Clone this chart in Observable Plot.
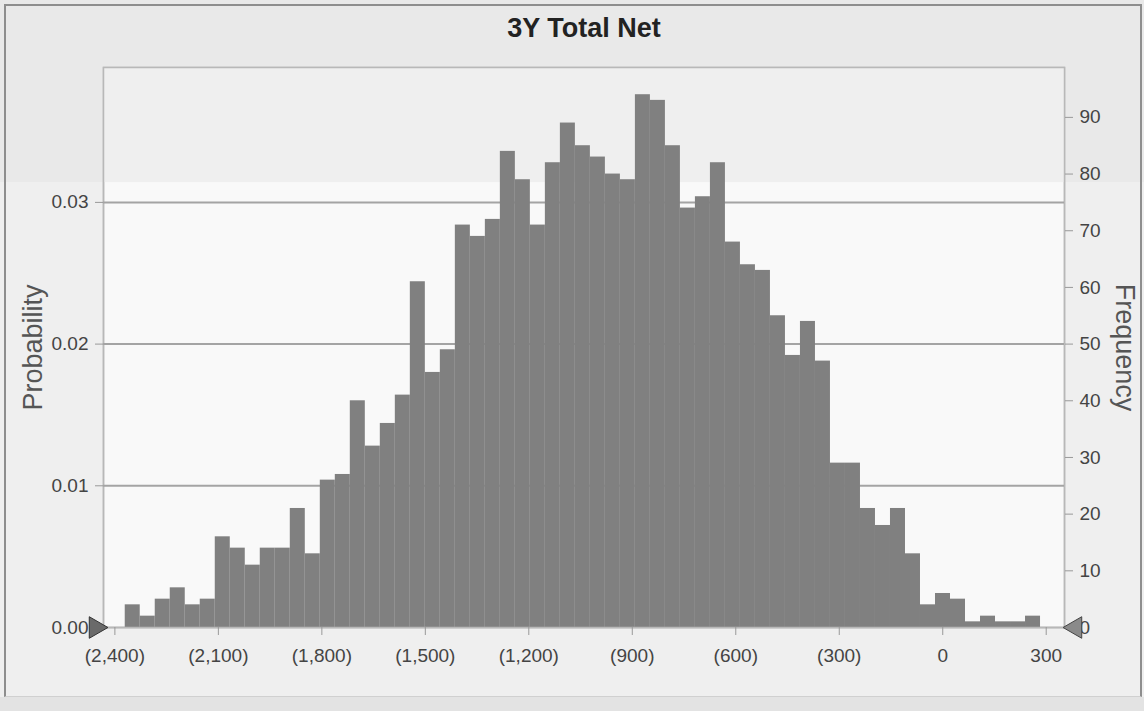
<!DOCTYPE html>
<html>
<head>
<meta charset="utf-8">
<script src="https://cdn.jsdelivr.net/npm/d3@7"></script>
<script src="https://cdn.jsdelivr.net/npm/@observablehq/plot@0.6"></script>
<style>
  html, body { margin: 0; padding: 0; background: #f3f3f3; }
  #chart {
    position: relative; width: 1144px; height: 711px; overflow: hidden;
    background: linear-gradient(#e9e9e9 0px, #e9e9e9 182px, #efefef 182px, #efefef 697px, #e3e3e3 697px);
  }
  #chart svg { position: absolute; left: 0; top: 0; }
  #border {
    position: absolute; left: 4px; top: 4px; width: 1134px; height: 690px;
    border: 2px solid #8e8e8e; border-bottom: 1px solid #d0d0d0; pointer-events: none;
  }
</style>
</head>
<body>
<div id="chart"><div id="border"></div></div>
<script>
// ---- data ----
const title = "3Y Total Net";
const leftLabel = "Probability";
const rightLabel = "Frequency";
const counts = [4, 2, 5, 7, 4, 5, 16, 14, 11, 14,
                14, 21, 13, 26, 27, 40, 32, 36, 41, 61,
                45, 49, 71, 69, 72, 84, 79, 71, 82, 89,
                85, 83, 80, 79, 94, 93, 85, 74, 76, 82,
                68, 64, 63, 55, 48, 54, 47, 29, 29, 21,
                18, 21, 13, 4, 6, 5, 1, 2, 1, 1, 2];
const binStart = -2370;
const binWidth = 43.5;
const trials = 2500;
const xTicks = [-2400, -2100, -1800, -1500, -1200, -900, -600, -300, 0, 300];
const freqTicks = [0, 10, 20, 30, 40, 50, 60, 70, 80, 90];
const probTicks = [0, 0.01, 0.02, 0.03];
const xDomain = [-2433, 353];
const yMax = 98.8;
const bandBottom = 78.5;

const bins = counts.map((c, i) => ({
  x1: binStart + i * binWidth,
  x2: binStart + (i + 1) * binWidth,
  count: c
}));

const fmtX = d => d < 0 ? `(${d3.format(",")(-d)})` : d3.format(",")(d);

const plot = Plot.plot({
  width: 1144,
  height: 711,
  marginLeft: 103,
  marginRight: 80,
  marginTop: 67,
  marginBottom: 84,
  style: { background: "transparent", fontFamily: "'Liberation Sans', Arial, sans-serif", color: "#444" },
  x: { type: "linear", domain: xDomain },
  y: { domain: [0, yMax] },
  marks: [
    Plot.frame({ fill: "#f9f9f9", stroke: "#b8b8b8", strokeWidth: 1.5 }),
    Plot.rect([0], { x1: () => xDomain[0], x2: () => xDomain[1], y1: () => bandBottom, y2: () => yMax, fill: "#efefef" }),
    Plot.frame({ stroke: "#b8b8b8", strokeWidth: 1.5 }),
    Plot.gridY(probTicks.slice(1).map(p => p * trials), { stroke: "#a4a4a4", strokeOpacity: 1, strokeWidth: 2 }),
    Plot.rect(bins, { x1: "x1", x2: "x2", y1: 0, y2: "count", fill: "#808080", inset: 0 }),
    Plot.ruleY([0], { stroke: "#b8b8b8", strokeWidth: 1.5 }),
    Plot.axisX(xTicks, { tickFormat: fmtX, fontSize: 19, tickSize: 8, tickPadding: 13, stroke: "#999", fill: "#444", label: null }),
    Plot.axisY(probTicks.map(p => p * trials), { anchor: "left", tickFormat: d => (d / trials).toFixed(2), fontSize: 19, tickSize: 8, tickPadding: 7, stroke: "#999", fill: "#444", label: null }),
    Plot.axisY(freqTicks, { anchor: "right", fontSize: 19, tickSize: 8, tickPadding: 7, stroke: "#999", fill: "#444", label: null }),
    Plot.text([leftLabel], { frameAnchor: "left", textAnchor: "middle", dx: -70, rotate: -90, fontSize: 27, fill: "#555" }),
    Plot.text([rightLabel], { frameAnchor: "right", textAnchor: "middle", dx: 60, rotate: 90, fontSize: 27, fill: "#555" }),
    Plot.text([title], { frameAnchor: "top", lineAnchor: "middle", dy: -39, fontSize: 27, fontWeight: "bold", fill: "#222" }),
    Plot.dot([0], { x: () => xDomain[0], y: () => 0, symbol: "triangle", rotate: 90, r: 8, dx: -8, fill: "#6a6a6a", stroke: "#333", strokeWidth: 1 }),
    Plot.dot([0], { x: () => xDomain[1], y: () => 0, symbol: "triangle", rotate: -90, r: 8, dx: 11, fill: "#8a8a8a", stroke: "#444", strokeWidth: 1 })
  ]
});
document.getElementById("chart").insertBefore(plot, document.getElementById("border"));
</script>
</body>
</html>
